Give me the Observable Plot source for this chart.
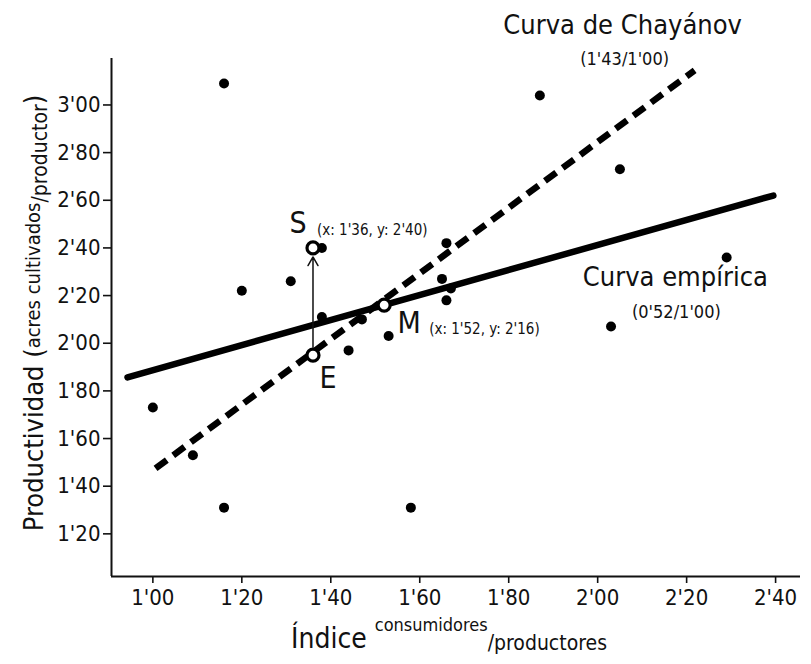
<!DOCTYPE html>
<html><head><meta charset="utf-8">
<script src="https://cdn.jsdelivr.net/npm/d3@7"></script>
<script src="https://cdn.jsdelivr.net/npm/@observablehq/plot@0.6"></script>
<style>body{margin:0;background:#fff} svg text{font-stretch:condensed}</style>
</head><body><div id="chart"></div>
<script>
// Scatter data (índice consumidores/productores, productividad)
const pointX = [1.00, 1.09, 1.16, 1.16, 1.20, 1.31, 1.38, 1.38, 1.44, 1.47, 1.53, 1.58, 1.66, 1.65, 1.67, 1.66, 1.87, 2.05, 2.03, 2.29];
const pointY = [1.73, 1.53, 3.09, 1.31, 2.22, 2.26, 2.40, 2.11, 1.97, 2.10, 2.03, 1.31, 2.42, 2.27, 2.23, 2.18, 3.04, 2.73, 2.07, 2.36];
// Fitted lines (endpoints)
const empiricalX = [0.943, 2.395];
const empiricalY = [1.857, 2.620];
const chayanovX = [1.006, 2.218];
const chayanovY = [1.475, 3.145];
// Marked points
const markerNames = ["S", "M", "E"];
const markerX = [1.36, 1.52, 1.36];
const markerY = [2.40, 2.16, 1.95];
const markerNotes = ["(x: 1'36, y: 2'40)", "(x: 1'52, y: 2'16)", ""];
// Ticks
const xTicks = [1.0, 1.2, 1.4, 1.6, 1.8, 2.0, 2.2, 2.4];
const yTicks = [1.2, 1.4, 1.6, 1.8, 2.0, 2.2, 2.4, 2.6, 2.8, 3.0];
const xDomain = [0.907, 2.456];
const yDomain = [1.021, 3.195];

const fmt = d => d.toFixed(2).replace(".", "'");
const FONT = "'DejaVu Sans', sans-serif";

const points = pointX.map((x, i) => ({x, y: pointY[i]}));
const empirical = empiricalX.map((x, i) => ({x, y: empiricalY[i]}));
const chayanov = chayanovX.map((x, i) => ({x, y: chayanovY[i]}));
const markers = markerNames.map((n, i) => ({name: n, x: markerX[i], y: markerY[i], note: markerNotes[i]}));
const S = markers[0], M = markers[1], E = markers[2];

const plot = Plot.plot({
  width: 811, height: 664,
  marginLeft: 111, marginRight: 11, marginTop: 58, marginBottom: 88,
  style: {fontFamily: FONT, background: "#fff", color: "#111"},
  x: {domain: xDomain},
  y: {domain: yDomain},
  marks: [
    Plot.axisX({ticks: xTicks, tickFormat: fmt, tickSize: 7, tickPadding: 6, fontSize: 22, strokeWidth: 1.6, label: null}),
    Plot.axisY({ticks: yTicks, tickFormat: fmt, tickSize: 8, tickPadding: 3, fontSize: 22, strokeWidth: 1.6, label: null}),
    Plot.ruleX([xDomain[0]], {strokeWidth: 2}),
    Plot.ruleY([yDomain[0]], {strokeWidth: 2}),
    Plot.line(chayanov, {x: "x", y: "y", stroke: "#000", strokeWidth: 6.5, strokeDasharray: "14,8", strokeLinecap: "butt"}),
    Plot.line(empirical, {x: "x", y: "y", stroke: "#000", strokeWidth: 6.5}),
    Plot.dot(points, {x: "x", y: "y", r: 5, fill: "#000"}),
    Plot.arrow([{x1: E.x, y1: E.y, x2: S.x, y2: S.y}], {x1: "x1", y1: "y1", x2: "x2", y2: "y2", stroke: "#111", strokeWidth: 1.5, insetStart: 8, insetEnd: 9, headLength: 10}),
    Plot.dot(markers, {x: "x", y: "y", r: 6, fill: "#fff", stroke: "#000", strokeWidth: 3.2}),
    // marker letters
    Plot.text([S], {x: "x", y: "y", text: "name", dx: -15, dy: -25, fontSize: 30, textAnchor: "middle"}),
    Plot.text([M], {x: "x", y: "y", text: "name", dx: 25, dy: 18, fontSize: 30, textAnchor: "middle"}),
    Plot.text([E], {x: "x", y: "y", text: "name", dx: 15, dy: 23, fontSize: 30, textAnchor: "middle"}),
    Plot.text([S], {x: "x", y: "y", text: "note", dx: 4, dy: -18, fontSize: 15, textAnchor: "start"}),
    Plot.text([M], {x: "x", y: "y", text: "note", dx: 45, dy: 24, fontSize: 15, textAnchor: "start"}),
    // curve labels anchored at line ends
    Plot.text([chayanov[1]], {x: "x", y: "y", text: () => "Curva de Chayánov", dx: -72, dy: -45, fontSize: 27, textAnchor: "middle"}),
    Plot.text([chayanov[1]], {x: "x", y: "y", text: d => "(" + fmt(1.43) + "/" + fmt(1.00) + ")", dx: -70, dy: -11, fontSize: 18, textAnchor: "middle"}),
    Plot.text([empirical[1]], {x: "x", y: "y", text: () => "Curva empírica", dx: -98, dy: 82, fontSize: 27, textAnchor: "middle"}),
    Plot.text([empirical[1]], {x: "x", y: "y", text: d => "(" + fmt(0.52) + "/" + fmt(1.00) + ")", dx: -97, dy: 117, fontSize: 18, textAnchor: "middle"})
  ]
});

const svg = d3.select(plot);
// x axis title
const xt = svg.append("text").attr("x", 449).attr("y", 648).attr("text-anchor", "middle")
  .style("font-family", FONT).attr("fill", "#111");
xt.append("tspan").attr("font-size", 28).text("Índice ");
xt.append("tspan").attr("font-size", 18).attr("dy", -17).text("consumidores");
xt.append("tspan").attr("font-size", 21).attr("dy", 19).text("/productores");
// y axis title
const yt = svg.append("text").attr("transform", "translate(43,313) rotate(-90)").attr("text-anchor", "middle")
  .style("font-family", FONT).attr("fill", "#111");
yt.append("tspan").attr("font-size", 27).text("Productividad (");
yt.append("tspan").attr("font-size", 20).attr("dy", -3).text("acres cultivados");
yt.append("tspan").attr("font-size", 21).attr("dy", 7).text("/productor");
yt.append("tspan").attr("font-size", 27).attr("dy", -4).text(")");

document.getElementById("chart").append(plot);
</script>
</body></html>
